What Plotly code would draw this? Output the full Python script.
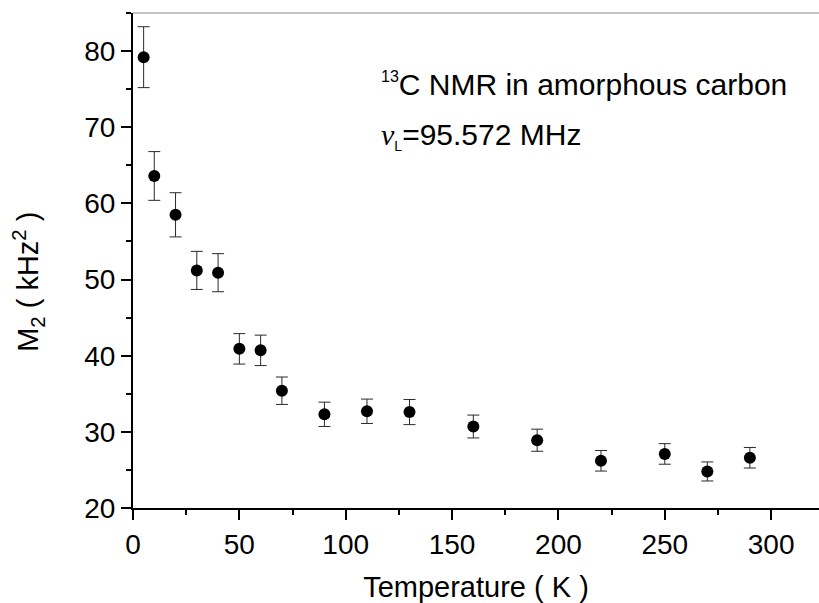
import plotly.graph_objects as go

temperature = [5, 10, 20, 30, 40, 50, 60, 70, 90, 110, 130, 160, 190, 220, 250, 270, 290]
m2 = [79.2, 63.6, 58.5, 51.2, 50.9, 40.9, 40.7, 35.4, 32.3, 32.7, 32.6, 30.7, 28.9, 26.2, 27.1, 24.8, 26.6]
m2_err = [4.0, 3.2, 2.9, 2.5, 2.5, 2.0, 2.0, 1.8, 1.6, 1.6, 1.65, 1.5, 1.45, 1.35, 1.35, 1.25, 1.35]

FONT = "Liberation Sans, Arial, sans-serif"

fig = go.Figure()
fig.add_trace(go.Scatter(
    x=temperature, y=m2, mode="markers",
    marker=dict(color="black", size=12, line=dict(width=0)),
    error_y=dict(type="data", array=m2_err, visible=True, color="#2a2a2a", thickness=1, width=6),
    showlegend=False,
))

fig.update_layout(
    width=819, height=603,
    margin=dict(l=133, r=0, t=13, b=95),
    paper_bgcolor="white", plot_bgcolor="white",
    font=dict(family=FONT, size=28, color="black"),
    xaxis=dict(
        range=[0, 322.5], tickmode="linear", tick0=0, dtick=50,
        ticks="outside", ticklen=10, tickwidth=1.5, tickcolor="black",
        showline=True, linecolor="black", linewidth=2, showgrid=False, zeroline=False,
        minor=dict(ticks="outside", ticklen=5, tickwidth=1.5, tickcolor="black", dtick=25, tick0=0, showgrid=False),
        tickfont=dict(size=28),
        title=dict(text="Temperature ( K )", font=dict(size=29), standoff=26),
        automargin=False,
    ),
    yaxis=dict(
        range=[20, 85], tickmode="linear", tick0=20, dtick=10,
        ticks="outside", ticklen=10, tickwidth=1.5, tickcolor="black",
        showline=True, linecolor="black", linewidth=2, showgrid=False, zeroline=False,
        minor=dict(ticks="outside", ticklen=5, tickwidth=1.5, tickcolor="black", dtick=5, tick0=20, showgrid=False),
        tickfont=dict(size=28),
        automargin=False,
    ),
    shapes=[dict(type="line", xref="paper", yref="paper", x0=0, x1=1, y0=1, y1=1,
                 line=dict(color="#888888", width=1))],
    annotations=[
        dict(x=-0.153, y=0.457, xref="paper", yref="paper", xanchor="center", yanchor="middle",
             textangle=-90, showarrow=False,
             text="M<sub>2</sub> ( kHz<sup>2</sup> )",
             font=dict(size=29, family=FONT, color="black")),
        dict(x=115.7, y=75.6, xref="x", yref="y", xanchor="left", yanchor="middle",
             text="<sup><span style=\"font-size:16px\">13</span></sup>C NMR in amorphous carbon",
             showarrow=False, font=dict(size=30, family=FONT, color="black")),
        dict(x=115.7, y=68.9, xref="x", yref="y", xanchor="left", yanchor="middle",
             text="<span style=\"font-family:'Liberation Serif'\"><i>ν</i></span><sub><span style=\"font-size:14px\">L</span></sub>=95.572 MHz",
             showarrow=False, font=dict(size=30, family=FONT, color="black")),
    ],
)

fig.write_html(
    "out.html",
    config={"displayModeBar": False},
    post_script="document.body.style.margin='0';document.body.style.overflow='hidden';",
)
